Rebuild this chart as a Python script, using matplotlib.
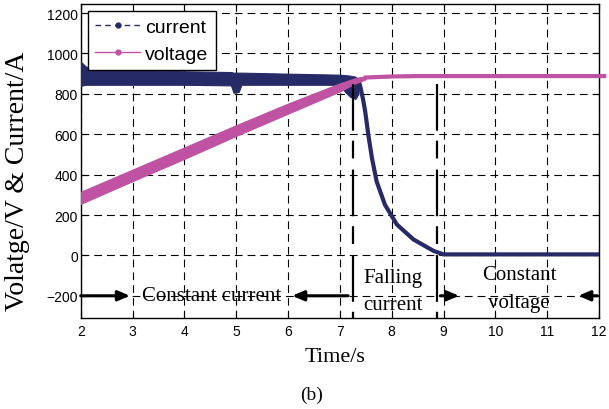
import matplotlib
matplotlib.use("Agg")
import matplotlib.pyplot as plt
from matplotlib.lines import Line2D

# ---------------- data ----------------
# current: oscillating band during constant-current stage (envelopes)
cur_band_t = [2.0, 2.1, 2.5, 3.0, 4.0, 4.9, 4.95, 5.05, 5.1, 6.0, 7.0, 7.1, 7.2, 7.3, 7.36]
cur_band_lo = [840, 845, 845, 845, 845, 842, 805, 810, 845, 845, 845, 810, 785, 775, 800]
cur_band_hi = [960, 935, 925, 918, 912, 908, 905, 905, 905, 900, 895, 893, 890, 885, 870]
# current: falling then constant
cur_fall_t = [7.36, 7.40, 7.45, 7.49, 7.55, 7.62, 7.71, 7.87, 8.10, 8.42, 8.81, 9.00, 12.0]
cur_fall_v = [870, 830, 770, 711, 596, 481, 366, 251, 153, 79, 22, 5, 5]

# voltage: oscillating band while rising (envelopes)
vol_band_t = [2.0, 3.0, 4.0, 5.0, 6.0, 7.0, 7.3, 7.5]
vol_band_lo = [255, 368, 478, 592, 702, 812, 852, 872]
vol_band_hi = [315, 425, 535, 645, 752, 852, 878, 888]
# voltage: constant stage
vol_flat_t = [7.5, 8.0, 8.5, 12.1]
vol_flat_v = [881, 886, 888, 888]

# stage boundaries
stage_bounds = [7.25, 8.88]
bound_top = 850

x_ticks = [2, 3, 4, 5, 6, 7, 8, 9, 10, 11, 12]
y_ticks = [-200, 0, 200, 400, 600, 800, 1000, 1200]

NAVY = "#262a66"
PINK = "#bf52a3"

plt.rcParams["font.family"] = ["Liberation Sans", "DejaVu Sans"]

fig = plt.figure(figsize=(6.09, 4.10), dpi=100)
ax = fig.add_axes([80.7 / 609, 1 - 319 / 410, 518.3 / 609, 314 / 410])

ax.set_xlim(2, 12)
ax.set_ylim(-310, 1245)
ax.set_xticks(x_ticks)
ax.set_yticks(y_ticks)
ax.tick_params(direction="in", top=True, right=True, length=4, width=0.8,
               labelsize=10, pad=4)
ax.tick_params(axis="y", pad=2)
ax.grid(True, color="black", linestyle=(0, (7, 4.5)), linewidth=0.8)
for s in ax.spines.values():
    s.set_linewidth(1.0)

# current
ax.fill_between(cur_band_t, cur_band_lo, cur_band_hi, color=NAVY, lw=0.8,
                edgecolor=NAVY, zorder=3)
ax.plot(cur_fall_t, cur_fall_v, color=NAVY, lw=3.0, zorder=3,
        solid_joinstyle="round", solid_capstyle="round")

# voltage
ax.fill_between(vol_band_t, vol_band_lo, vol_band_hi, color=PINK, lw=0.8,
                edgecolor=PINK, zorder=4)
ax.plot(vol_flat_t, vol_flat_v, color=PINK, lw=3.0, zorder=4, clip_on=False)

# stage boundary lines
for b in stage_bounds:
    ax.plot([b, b], [bound_top, -310], color="black", lw=1.6,
            dashes=(21, 4.5, 8, 5), zorder=5, clip_on=False)

# arrows
def arrow(x0, x1):
    ax.annotate("", xy=(x1, -200), xytext=(x0, -200),
                arrowprops=dict(arrowstyle="-|>,head_length=0.7,head_width=0.3",
                                color="black", lw=2.2, shrinkA=0, shrinkB=0),
                zorder=6)

arrow(2.0, 2.95)
arrow(7.16, 6.08)
arrow(8.94, 9.3)
arrow(11.97, 11.6)

serif = ["Liberation Serif", "DejaVu Serif"]
ax.text(4.53, -200, "Constant current", family=serif, fontsize=15,
        ha="center", va="center", zorder=6)
ax.text(8.03, -110, "Falling", family=serif, fontsize=15, ha="center", va="center")
ax.text(8.03, -241, "current", family=serif, fontsize=15, ha="center", va="center")
ax.text(10.46, -94, "Constant", family=serif, fontsize=15, ha="center", va="center")
ax.text(10.46, -233, "voltage", family=serif, fontsize=15, ha="center", va="center")

fig.text(335 / 609, 1 - 358 / 410, "Time/s", family=serif, fontsize=16,
         ha="center", va="center")
fig.text(17.5 / 609, 1 - 181.5 / 410, "Volatge/V & Current/A", family=serif,
         fontsize=20, rotation=90, ha="center", va="center")
fig.text(312 / 609, 1 - 395 / 410, "(b)", family=serif, fontsize=14,
         ha="center", va="center")

handles = [
    Line2D([], [], color=NAVY, lw=1.0, ls=(0, (4, 3)), marker="o", ms=3.5),
    Line2D([], [], color=PINK, lw=1.0, ls="-", marker="o", ms=3.5),
]
leg = ax.legend(handles, ["current", "voltage"], loc="upper left",
                fontsize=14, frameon=True, fancybox=False, framealpha=1,
                edgecolor="black", handlelength=2.3, handletextpad=0.25,
                borderaxespad=0.35, borderpad=0.4, labelspacing=0.45,
                numpoints=1)
leg.get_frame().set_linewidth(1.0)
leg.set_zorder(10)

fig.savefig("out.png", dpi=100)
